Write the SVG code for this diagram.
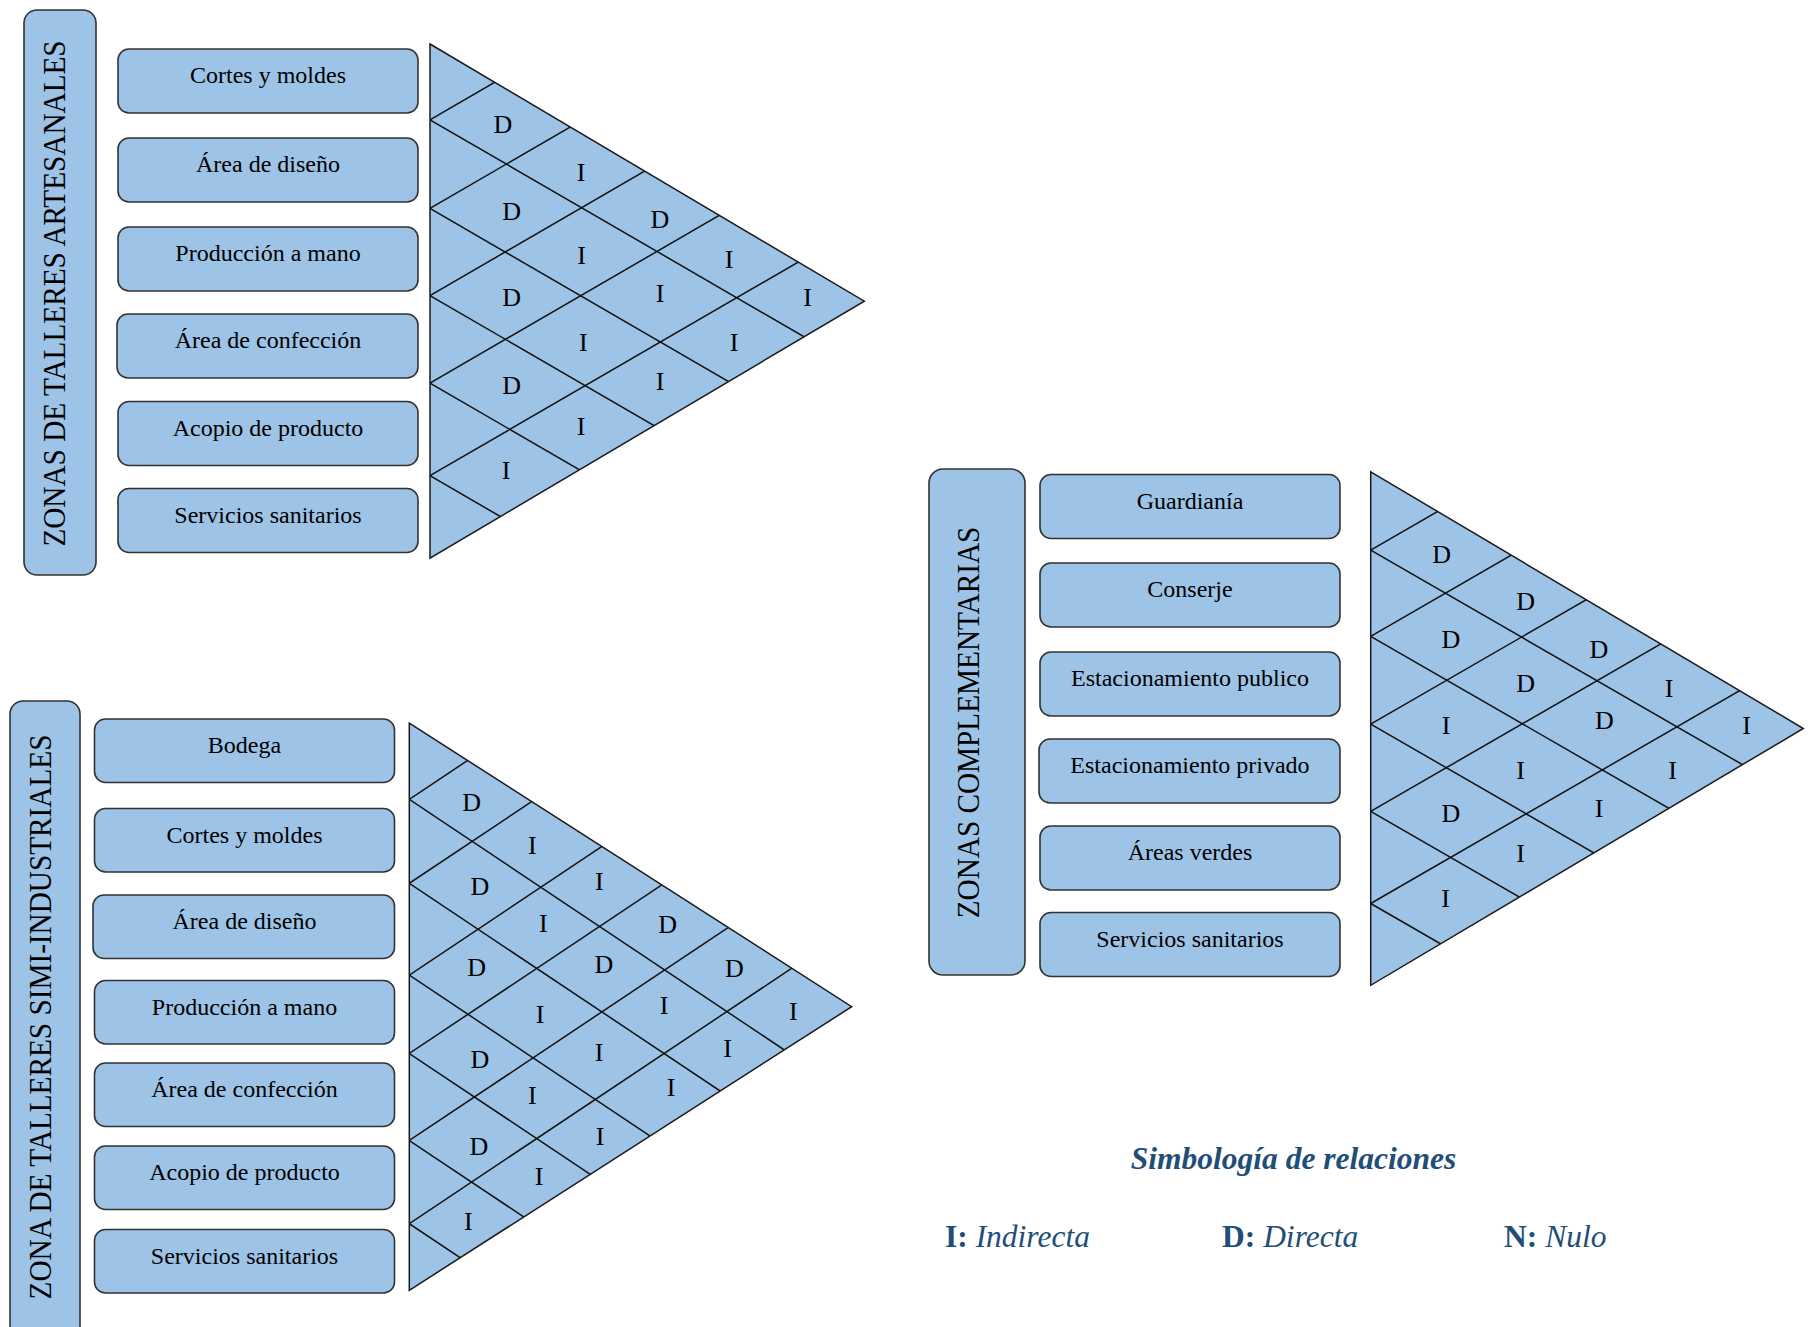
<svg xmlns="http://www.w3.org/2000/svg" width="1810" height="1327" viewBox="0 0 1810 1327">
<style>
.bg{fill:#ffffff}
.box{fill:#9DC3E6;stroke:#333333;stroke-width:1.6}
.tbox{fill:#9DC3E6;stroke:#333333;stroke-width:1.6}
.tri{fill:#9DC3E6;stroke:none}
.triline{fill:none;stroke:#1a1a1a;stroke-width:1.5;stroke-linejoin:miter}
.grid line{stroke:#111111;stroke-width:1.5}
.txt{font-family:"Liberation Serif","Times New Roman",serif;font-size:24px;fill:#000000;text-anchor:middle}
.ttl{font-family:"Liberation Serif","Times New Roman",serif;font-size:32.5px;fill:#000000;text-anchor:middle}
.lbl{font-family:"Liberation Serif","Times New Roman",serif;font-size:26px;fill:#000000;text-anchor:middle}
.leg{font-family:"Liberation Serif","Times New Roman",serif;font-size:31.5px;fill:#1F4E79}
.b{font-weight:bold}
.i{font-style:italic}
</style>
<defs>
<clipPath id="cTL"><polygon points="430,44 864.3,301.2 430,558.2"/></clipPath>
<clipPath id="cBL"><polygon points="409.3,723.1 851.7,1006.7 409.3,1290.3"/></clipPath>
<clipPath id="cR"><polygon points="1370.7,471.8 1803.3,728.5 1370.7,985.3"/></clipPath>
</defs>
<rect class="bg" x="0" y="0" width="1810" height="1327"/>

<!-- ===== Zonas de talleres artesanales ===== -->
<g id="title-artesanales">
<rect class="tbox" x="24" y="10" width="72" height="565" rx="13"/>
<text class="ttl" transform="translate(65,293.5) rotate(-90) scale(0.9,1)">ZONAS DE TALLERES ARTESANALES</text>
</g>
<g id="tl-cortes"><rect class="box" x="118" y="49" width="300" height="64" rx="11"/><text class="txt" x="268" y="83">Cortes y moldes</text></g>
<g id="tl-diseno"><rect class="box" x="118" y="138" width="300" height="64" rx="11"/><text class="txt" x="268" y="172">Área de diseño</text></g>
<g id="tl-produccion"><rect class="box" x="118" y="227" width="300" height="64" rx="11"/><text class="txt" x="268" y="261">Producción a mano</text></g>
<g id="tl-confeccion"><rect class="box" x="117" y="314" width="301" height="64" rx="11"/><text class="txt" x="268" y="348">Área de confección</text></g>
<g id="tl-acopio"><rect class="box" x="118" y="401.5" width="300" height="64" rx="11"/><text class="txt" x="268" y="435.5">Acopio de producto</text></g>
<g id="tl-servicios"><rect class="box" x="118" y="488.5" width="300" height="64" rx="11"/><text class="txt" x="268" y="522.5">Servicios sanitarios</text></g>

<g id="matrix-artesanales">
<polygon class="tri" points="430,44 864.3,301.2 430,558.2"/>
<g class="grid" clip-path="url(#cTL)">
<line x1="430" y1="119.8" x2="930" y2="-170.2"/>
<line x1="430" y1="208.4" x2="930" y2="-81.6"/>
<line x1="430" y1="295.6" x2="930" y2="5.6"/>
<line x1="430" y1="383.1" x2="930" y2="93.1"/>
<line x1="430" y1="475.7" x2="930" y2="185.7"/>
<line x1="430" y1="119.8" x2="930" y2="409.8"/>
<line x1="430" y1="208.4" x2="930" y2="498.4"/>
<line x1="430" y1="295.6" x2="930" y2="585.6"/>
<line x1="430" y1="383.1" x2="930" y2="673.1"/>
<line x1="430" y1="475.7" x2="930" y2="765.7"/>
</g>
<polygon class="triline" points="430,44 864.3,301.2 430,558.2"/>
<text class="lbl" x="502.8" y="133.3">D</text>
<text class="lbl" x="581" y="181">I</text>
<text class="lbl" x="511.7" y="220">D</text>
<text class="lbl" x="660" y="228.4">D</text>
<text class="lbl" x="581.7" y="263.8">I</text>
<text class="lbl" x="729" y="268.1">I</text>
<text class="lbl" x="511.7" y="305.9">D</text>
<text class="lbl" x="660" y="301.5">I</text>
<text class="lbl" x="807.7" y="305.9">I</text>
<text class="lbl" x="583.3" y="350.6">I</text>
<text class="lbl" x="734" y="350.6">I</text>
<text class="lbl" x="511.7" y="394.1">D</text>
<text class="lbl" x="660" y="390">I</text>
<text class="lbl" x="581" y="434.5">I</text>
<text class="lbl" x="506" y="478.6">I</text>
</g>

<!-- ===== Zona de talleres simi-industriales ===== -->
<g id="title-simi">
<rect class="tbox" x="10" y="701" width="70" height="660" rx="13"/>
<text class="ttl" transform="translate(50.5,1017) rotate(-90) scale(0.9,1)">ZONA DE TALLERES SIMI-INDUSTRIALES</text>
</g>
<g id="bl-bodega"><rect class="box" x="94.5" y="719" width="300" height="63.5" rx="11"/><text class="txt" x="244.5" y="753">Bodega</text></g>
<g id="bl-cortes"><rect class="box" x="94.5" y="808.5" width="300" height="63.5" rx="11"/><text class="txt" x="244.5" y="842.5">Cortes y moldes</text></g>
<g id="bl-diseno"><rect class="box" x="93" y="895" width="301.5" height="63.5" rx="11"/><text class="txt" x="244.5" y="929">Área de diseño</text></g>
<g id="bl-produccion"><rect class="box" x="94.5" y="980.5" width="300" height="63.5" rx="11"/><text class="txt" x="244.5" y="1014.5">Producción a mano</text></g>
<g id="bl-confeccion"><rect class="box" x="94.5" y="1063" width="300" height="63.5" rx="11"/><text class="txt" x="244.5" y="1097">Área de confección</text></g>
<g id="bl-acopio"><rect class="box" x="94.5" y="1146" width="300" height="63.5" rx="11"/><text class="txt" x="244.5" y="1180">Acopio de producto</text></g>
<g id="bl-servicios"><rect class="box" x="94.5" y="1229.5" width="300" height="63.5" rx="11"/><text class="txt" x="244.5" y="1263.5">Servicios sanitarios</text></g>

<g id="matrix-simi">
<polygon class="tri" points="409.3,723.1 851.7,1006.7 409.3,1290.3"/>
<g class="grid" clip-path="url(#cBL)">
<line x1="409.3" y1="799.4" x2="909.3" y2="465.4"/>
<line x1="409.3" y1="883.3" x2="909.3" y2="549.3"/>
<line x1="409.3" y1="975.1" x2="909.3" y2="641.1"/>
<line x1="409.3" y1="1053.5" x2="909.3" y2="719.5"/>
<line x1="409.3" y1="1140.5" x2="909.3" y2="806.5"/>
<line x1="409.3" y1="1223.7" x2="909.3" y2="889.7"/>
<line x1="409.3" y1="799.4" x2="909.3" y2="1133.4"/>
<line x1="409.3" y1="883.3" x2="909.3" y2="1217.3"/>
<line x1="409.3" y1="975.1" x2="909.3" y2="1309.1"/>
<line x1="409.3" y1="1053.5" x2="909.3" y2="1387.5"/>
<line x1="409.3" y1="1140.5" x2="909.3" y2="1474.5"/>
<line x1="409.3" y1="1223.7" x2="909.3" y2="1557.7"/>
</g>
<polygon class="triline" points="409.3,723.1 851.7,1006.7 409.3,1290.3"/>
<text class="lbl" x="471.7" y="810.6">D</text>
<text class="lbl" x="532.3" y="853.8">I</text>
<text class="lbl" x="480" y="894.6">D</text>
<text class="lbl" x="599.3" y="890.1">I</text>
<text class="lbl" x="543.3" y="931.6">I</text>
<text class="lbl" x="667.7" y="933.4">D</text>
<text class="lbl" x="476.7" y="976.3">D</text>
<text class="lbl" x="604" y="973.3">D</text>
<text class="lbl" x="734.3" y="977.4">D</text>
<text class="lbl" x="540" y="1022.5">I</text>
<text class="lbl" x="664" y="1014">I</text>
<text class="lbl" x="793.3" y="1019.6">I</text>
<text class="lbl" x="480" y="1068.4">D</text>
<text class="lbl" x="599" y="1061">I</text>
<text class="lbl" x="727.7" y="1057.3">I</text>
<text class="lbl" x="532.3" y="1103.6">I</text>
<text class="lbl" x="671" y="1096.2">I</text>
<text class="lbl" x="479" y="1154.6">D</text>
<text class="lbl" x="600" y="1145.4">I</text>
<text class="lbl" x="539" y="1185.3">I</text>
<text class="lbl" x="468.3" y="1230.4">I</text>
</g>

<!-- ===== Zonas complementarias ===== -->
<g id="title-complementarias">
<rect class="tbox" x="929" y="469" width="96" height="506" rx="14"/>
<text class="ttl" transform="translate(979,722.5) rotate(-90) scale(0.9,1)">ZONAS COMPLEMENTARIAS</text>
</g>
<g id="r-guardiania"><rect class="box" x="1040" y="474.5" width="300" height="64" rx="11"/><text class="txt" x="1190" y="508.5">Guardianía</text></g>
<g id="r-conserje"><rect class="box" x="1040" y="563" width="300" height="64" rx="11"/><text class="txt" x="1190" y="597">Conserje</text></g>
<g id="r-est-publico"><rect class="box" x="1040" y="652" width="300" height="64" rx="11"/><text class="txt" x="1190" y="686">Estacionamiento publico</text></g>
<g id="r-est-privado"><rect class="box" x="1039" y="739" width="301" height="64" rx="11"/><text class="txt" x="1190" y="773">Estacionamiento privado</text></g>
<g id="r-areas-verdes"><rect class="box" x="1040" y="826" width="300" height="64" rx="11"/><text class="txt" x="1190" y="860">Áreas verdes</text></g>
<g id="r-servicios"><rect class="box" x="1040" y="912.5" width="300" height="64" rx="11"/><text class="txt" x="1190" y="946.5">Servicios sanitarios</text></g>

<g id="matrix-complementarias">
<polygon class="tri" points="1370.7,471.8 1803.3,728.5 1370.7,985.3"/>
<g class="grid" clip-path="url(#cR)">
<line x1="1370.7" y1="550.1" x2="1870.7" y2="261.6"/>
<line x1="1370.7" y1="636.3" x2="1870.7" y2="347.8"/>
<line x1="1370.7" y1="724.1" x2="1870.7" y2="435.6"/>
<line x1="1370.7" y1="811.3" x2="1870.7" y2="522.8"/>
<line x1="1370.7" y1="903.5" x2="1870.7" y2="615"/>
<line x1="1370.7" y1="550.1" x2="1870.7" y2="838.6"/>
<line x1="1370.7" y1="636.3" x2="1870.7" y2="924.8"/>
<line x1="1370.7" y1="724.1" x2="1870.7" y2="1012.6"/>
<line x1="1370.7" y1="811.3" x2="1870.7" y2="1099.8"/>
<line x1="1370.7" y1="903.5" x2="1870.7" y2="1192"/>
</g>
<polygon class="triline" points="1370.7,471.8 1803.3,728.5 1370.7,985.3"/>
<text class="lbl" x="1441.7" y="563.1">D</text>
<text class="lbl" x="1525.7" y="609.7">D</text>
<text class="lbl" x="1451" y="648.3">D</text>
<text class="lbl" x="1599" y="657.7">D</text>
<text class="lbl" x="1525.7" y="691.5">D</text>
<text class="lbl" x="1669" y="696.6">I</text>
<text class="lbl" x="1446" y="733.7">I</text>
<text class="lbl" x="1604.3" y="729.3">D</text>
<text class="lbl" x="1746.7" y="734.4">I</text>
<text class="lbl" x="1520.7" y="779.3">I</text>
<text class="lbl" x="1672.7" y="778.7">I</text>
<text class="lbl" x="1451" y="821.6">D</text>
<text class="lbl" x="1599" y="817.2">I</text>
<text class="lbl" x="1520.7" y="862.1">I</text>
<text class="lbl" x="1445.7" y="907">I</text>
</g>

<g id="connectors"></g>

<!-- ===== Legend ===== -->
<g id="legend">
<text class="leg b i" x="1293.5" y="1169" text-anchor="middle">Simbología de relaciones</text>
<text class="leg" x="945" y="1247"><tspan class="b">I:</tspan> <tspan class="i">Indirecta</tspan></text>
<text class="leg" x="1222" y="1247"><tspan class="b">D:</tspan> <tspan class="i">Directa</tspan></text>
<text class="leg" x="1504" y="1247"><tspan class="b">N:</tspan> <tspan class="i">Nulo</tspan></text>
</g>
</svg>
